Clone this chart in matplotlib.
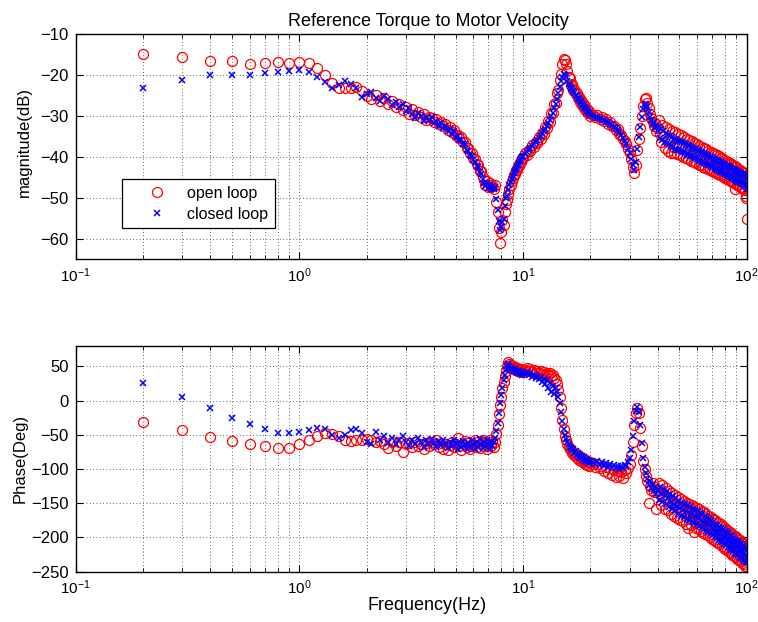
import numpy as np
import matplotlib
matplotlib.use("Agg")
import matplotlib.pyplot as plt
from matplotlib.ticker import LogLocator, MultipleLocator, NullFormatter

plt.rcParams['font.family'] = ['Liberation Sans', 'DejaVu Sans']
plt.rcParams['font.size'] = 12

# Measurement grid: 0.1 Hz to 10 Hz, 0.2 Hz to 20 Hz, 0.5 Hz to 100 Hz
freq = np.concatenate([np.arange(2, 101) / 10, np.arange(51, 101) / 5,
                       np.arange(41, 81) / 2, np.arange(81, 201) / 2])

mag_open = [
    -14.8, -15.7, -16.6, -16.7, -17.3, -17.0, -16.9, -17.0, -16.8,
    -17.0, -18.2, -20.0, -21.9, -23.3, -23.3, -23.2, -22.9, -23.9, -25.2,
    -26.0, -24.8, -26.4, -25.6, -27.0, -26.3, -27.8, -27.0, -28.6, -27.9,
    -29.5, -28.4, -29.8, -29.0, -30.4, -29.6, -31.0, -30.2, -30.6, -31.5,
    -30.8, -32.0, -31.4, -32.6, -32.0, -33.4, -32.8, -34.0, -33.5, -34.8,
    -34.6, -35.4, -35.2, -36.4, -36.3, -37.8, -37.9, -39.2, -39.0, -40.4,
    -40.6, -41.8, -42.0, -43.4, -43.6, -45.0, -45.8, -46.9, -46.0, -47.3,
    -46.5, -47.5, -46.8, -47.8, -46.9, -51.0, -53.5, -57.5, -61.0, -58.5,
    -55.5, -56.8, -53.5, -51.5, -50.5, -49.0, -47.8, -46.8, -46.0, -45.2,
    -44.4, -44.2, -43.3, -43.2, -42.2, -42.2, -41.3, -41.2, -40.4, -40.4,
    # 10.2 - 20 Hz
    -39.2, -39.6, -38.3, -38.6, -37.2, -37.6, -36.3, -36.6, -35.2, -35.6,
    -34.2, -34.4, -32.8, -33.0, -31.2, -31.4, -29.4, -29.4, -27.2, -26.8,
    -24.4, -23.6, -21.2, -19.8, -17.4, -16.0, -16.3, -17.4, -19.0, -20.6,
    -20.8, -22.4, -22.2, -23.6, -23.4, -24.7, -24.4, -25.7, -25.3, -26.5,
    -26.1, -27.3, -26.9, -28.0, -27.6, -28.7, -28.3, -29.4, -28.9, -30.0,
    # 20.5 - 40 Hz
    -29.8, -30.4, -29.8, -30.8, -30.4, -31.2, -30.8, -31.9, -31.6, -32.6,
    -32.4, -33.4, -33.2, -34.4, -34.8, -35.6, -36.2, -37.0, -38.0, -39.2,
    -40.6, -42.4, -44.0, -42.0, -38.4, -35.6, -33.0, -30.0, -27.6, -25.8,
    -25.6, -26.8, -28.2, -29.6, -30.6, -31.4, -32.6, -31.8, -33.6, -32.9,
    # 40.5 - 100 Hz
    -31.0, -34.5, -36.5, -32.2, -35.0, -37.8, -32.8, -35.8, -38.6, -33.2,
    -36.2, -39.0, -33.6, -37.6, -39.2, -34.0, -36.9, -39.4, -34.5, -37.2,
    -39.6, -34.8, -37.4, -40.0, -35.2, -37.8, -40.3, -35.6, -38.2, -40.6,
    -36.0, -38.4, -41.0, -36.2, -38.8, -41.3, -36.6, -39.0, -41.6, -37.0,
    -39.4, -41.9, -37.3, -39.6, -42.1, -37.6, -40.0, -42.4, -37.9, -40.2,
    -42.7, -38.2, -40.5, -43.0, -38.5, -40.8, -43.2, -38.8, -41.1, -43.5,
    -39.1, -41.4, -43.7, -39.4, -41.6, -44.0, -39.6, -41.9, -44.2, -39.9,
    -42.2, -44.5, -40.2, -42.4, -44.7, -40.4, -42.7, -45.0, -40.7, -42.9,
    -45.2, -41.0, -43.2, -45.5, -41.2, -43.4, -45.7, -41.5, -43.7, -46.0,
    -41.8, -44.0, -46.2, -42.0, -44.2, -46.5, -42.3, -47.8, -44.6, -42.6,
    -46.8, -44.8, -42.9, -47.0, -45.0, -43.2, -47.3, -45.3, -43.4, -47.6,
    -45.5, -43.7, -47.9, -45.8, -44.0, -48.2, -46.5, -50.2, -49.5, -55.3,
]

mag_closed = [
    -23.1, -21.2, -20.1, -20.1, -19.9, -19.5, -19.2, -19.0, -18.8,
    -19.2, -20.4, -21.8, -23.1, -22.5, -21.5, -22.1, -23.3, -25.3, -24.7,
    -24.2, -25.6, -26.4, -25.2, -26.0, -27.4, -26.6, -27.8, -27.0, -28.9,
    -28.0, -29.6, -30.6, -29.4, -30.0, -31.2, -30.4, -31.0, -30.2, -31.8,
    -31.2, -32.4, -31.8, -33.0, -32.4, -33.6, -33.2, -34.4, -33.8, -35.2,
    -34.9, -35.9, -35.8, -36.9, -37.0, -38.3, -38.5, -39.6, -39.8, -40.9,
    -41.2, -42.3, -42.6, -43.8, -44.2, -45.4, -46.4, -47.2, -46.5, -47.6,
    -46.9, -47.9, -47.2, -48.0, -47.4, -50.4, -53.0, -55.8, -58.0, -57.2,
    -56.0, -55.2, -52.0, -50.2, -49.5, -48.2, -47.0, -46.2, -45.4, -44.6,
    -44.0, -43.4, -43.0, -42.4, -42.0, -41.5, -41.0, -40.6, -40.1, -39.8,
    # 10.2 - 20 Hz
    -39.4, -38.8, -38.4, -37.9, -37.3, -36.9, -36.4, -35.9, -35.4, -34.9,
    -34.3, -33.7, -33.1, -32.4, -31.7, -31.0, -30.1, -29.2, -28.2, -27.1,
    -25.8, -24.4, -23.0, -21.6, -20.5, -19.8, -19.9, -20.6, -21.4, -22.1,
    -22.6, -23.1, -23.5, -24.0, -24.4, -24.8, -25.2, -25.6, -26.0, -26.4,
    -26.7, -27.1, -27.4, -27.8, -28.1, -28.4, -28.8, -29.1, -29.4, -29.7,
    # 20.5 - 40 Hz
    -30.0, -30.2, -30.5, -30.6, -30.9, -31.1, -31.4, -31.6, -32.0, -32.3,
    -32.7, -33.0, -33.5, -34.0, -34.7, -35.4, -36.1, -37.0, -38.0, -39.2,
    -40.6, -42.0, -43.2, -41.4, -38.0, -35.2, -32.8, -30.4, -28.4, -27.2,
    -27.0, -27.9, -29.0, -30.2, -31.0, -32.0, -31.6, -33.0, -32.4, -33.6,
    # 40.5 - 100 Hz
    -32.8, -35.4, -33.3, -35.9, -33.8, -36.3, -34.2, -36.7, -34.6, -37.0,
    -34.9, -37.3, -35.2, -37.7, -35.6, -38.0, -35.9, -38.3, -36.2, -38.4,
    -36.2, -38.6, -36.5, -38.9, -36.7, -39.1, -36.9, -39.3, -37.2, -39.5,
    -37.4, -39.7, -37.6, -39.9, -37.8, -40.1, -38.0, -40.4, -38.2, -40.6,
    -38.4, -40.8, -38.6, -41.0, -38.8, -41.2, -39.0, -41.4, -39.2, -41.5,
    -39.4, -41.7, -39.6, -41.9, -39.8, -42.1, -40.0, -42.3, -40.1, -42.5,
    -40.3, -42.6, -40.5, -42.8, -40.7, -43.0, -40.8, -43.2, -41.0, -43.3,
    -41.2, -43.5, -41.3, -43.7, -41.5, -43.8, -41.7, -44.0, -41.8, -44.2,
    -42.0, -44.3, -42.2, -44.5, -42.3, -44.6, -42.5, -44.8, -42.6, -45.0,
    -42.8, -45.1, -43.0, -45.3, -43.1, -45.4, -43.3, -45.6, -43.4, -45.8,
    -43.6, -45.9, -43.7, -46.1, -43.9, -46.2, -44.0, -46.4, -44.2, -46.5,
    -44.3, -46.7, -44.5, -46.8, -44.6, -47.0, -44.8, -47.4, -45.5, -47.8,
]

phase_open = [
    -31.5, -43.0, -53.0, -58.4, -64.0, -66.7, -69.7, -68.7, -63.5,
    -57.0, -51.0, -46.6, -48.5, -52.0, -57.0, -59.4, -58.0, -57.5, -55.6,
    -58.0, -61.0, -58.5, -63.0, -69.0, -61.0, -66.0, -60.0, -75.6, -64.0,
    -62.0, -67.0, -60.0, -66.0, -63.0, -70.0, -62.0, -66.0, -60.0, -64.0,
    -58.0, -67.0, -62.0, -70.0, -64.0, -72.0, -65.0, -61.0, -68.0, -63.0,
    -55.0, -66.0, -72.0, -64.0, -59.0, -68.0, -62.0, -70.0, -63.0, -66.0,
    -58.0, -67.0, -61.0, -69.0, -62.0, -57.0, -66.0, -60.0, -70.0, -63.0,
    -58.0, -66.0, -61.0, -68.0, -60.0, -48.0, -36.0, -20.0, -6.0, 6.0,
    18.0, 28.0, 36.0, 44.0, 50.0, 56.0, 54.0, 52.0, 48.0, 50.0,
    46.0, 49.0, 45.0, 48.0, 44.0, 47.0, 43.0, 46.0, 42.0, 45.0,
    # 10.2 - 20 Hz
    45, 48, 43, 46, 42, 45, 41, 44, 40, 43,
    39, 42, 38, 41, 37, 40, 36, 38, 33, 30,
    24, 16, 5, -10, -28, -42, -52, -58, -63, -67,
    -70, -72, -76, -75, -80, -78, -84, -80, -86, -83,
    -88, -84, -90, -86, -92, -87, -94, -89, -96, -90,
    # 20.5 - 40 Hz
    -93, -97, -92, -99, -95, -103, -97, -106, -99, -108,
    -101, -112, -103, -110, -104, -113, -102, -106, -98, -92,
    -80, -60, -35, -18, -10, -18, -40, -66, -88, -100,
    -110, -118, -150, -125, -130, -120, -134, -126, -158, -132,
    # 40.5 - 100 Hz
    -121, -136, -153, -124, -139, -158, -127, -142, -160, -132,
    -147, -166, -135, -150, -168, -138, -153, -172, -141, -156,
    -174, -144, -159, -176, -146, -161, -180, -149, -163, -186,
    -151, -165, -182, -153, -168, -192, -155, -170, -186, -157,
    -172, -188, -159, -174, -190, -161, -176, -193, -163, -178,
    -195, -166, -180, -197, -168, -183, -199, -170, -185, -202,
    -173, -187, -204, -175, -190, -206, -177, -192, -208, -179,
    -194, -210, -181, -196, -213, -183, -198, -215, -185, -200,
    -217, -187, -202, -219, -190, -204, -221, -192, -206, -223,
    -194, -208, -225, -196, -211, -227, -198, -213, -229, -200,
    -215, -231, -202, -217, -233, -204, -218, -235, -206, -220,
    -237, -208, -222, -239, -210, -224, -241, -212, -226, -243,
]

phase_closed = [
    25.4, 5.3, -11.3, -25.6, -34.0, -41.0, -47.0, -47.0, -46.0,
    -43.0, -40.0, -42.0, -50.0, -55.0, -50.0, -43.0, -41.0, -47.0, -61.0,
    -63.0, -46.0, -58.0, -51.0, -62.0, -55.0, -64.0, -58.0, -52.0, -60.0,
    -66.0, -57.0, -63.0, -55.0, -61.0, -67.0, -58.0, -64.0, -56.0, -62.0,
    -68.0, -59.0, -65.0, -57.0, -63.0, -69.0, -60.0, -66.0, -58.0, -64.0,
    -70.0, -61.0, -67.0, -59.0, -65.0, -71.0, -62.0, -68.0, -58.0, -64.0,
    -70.0, -61.0, -67.0, -56.0, -63.0, -69.0, -60.0, -66.0, -58.0, -64.0,
    -70.0, -61.0, -66.0, -60.0, -55.0, -45.0, -32.0, -18.0, -4.0, 8.0,
    19.0, 30.0, 38.0, 45.0, 50.0, 53.0, 50.0, 48.0, 45.0, 47.0,
    43.0, 46.0, 42.0, 44.0, 40.0, 43.0, 39.0, 42.0, 38.0, 41.0,
    # 10.2 - 20 Hz
    39, 42, 37, 40, 35, 38, 33, 36, 31, 34,
    28, 32, 24, 30, 18, 26, 12, 22, 10, 18,
    12, 6, -4, -16, -30, -42, -50, -56, -60, -64,
    -67, -69, -72, -71, -76, -74, -79, -77, -82, -79,
    -84, -81, -86, -83, -88, -85, -90, -86, -91, -88,
    # 20.5 - 40 Hz
    -89, -92, -88, -94, -90, -96, -91, -97, -93, -98,
    -94, -99, -95, -100, -96, -99, -94, -96, -90, -84,
    -72, -52, -30, -15, -9, -16, -36, -62, -84, -97,
    -106, -114, -124, -118, -128, -122, -132, -126, -136, -130,
    # 40.5 - 100 Hz
    -145, -126, -137, -148, -129, -140, -151, -132, -143, -156,
    -137, -148, -159, -140, -151, -162, -143, -154, -165, -146,
    -157, -168, -149, -160, -170, -151, -162, -173, -153, -164,
    -175, -155, -166, -177, -158, -168, -179, -160, -170, -181,
    -162, -172, -183, -164, -174, -185, -166, -177, -187, -168,
    -179, -190, -170, -181, -192, -173, -183, -194, -175, -186,
    -197, -177, -188, -199, -180, -190, -201, -182, -192, -203,
    -184, -194, -205, -186, -197, -207, -188, -199, -209, -190,
    -201, -211, -192, -203, -214, -194, -205, -216, -196, -207,
    -218, -198, -209, -220, -201, -211, -222, -203, -213, -224,
    -205, -215, -226, -207, -217, -228, -208, -219, -230, -210,
    -221, -232, -212, -223, -234, -214, -225, -236, -216, -238,
]

labels = ['open loop', 'closed loop']

fig = plt.figure(figsize=(7.58, 6.22), dpi=100)
ax1 = fig.add_axes([0.0999, 0.5836, 0.885, 0.3617])
ax2 = fig.add_axes([0.0999, 0.0809, 0.885, 0.3629])

circ = dict(linestyle='none', marker='o', markersize=7.2, markerfacecolor='none',
            markeredgecolor=(1, 0, 0), markeredgewidth=0.9)
cross = dict(linestyle='none', marker='x', markersize=5, color=(0, 0, 1),
             markeredgewidth=1.1)

ax1.plot(freq, mag_open, label=labels[0], **circ)
ax1.plot(freq, mag_closed, label=labels[1], **cross)
ax2.plot(freq, phase_open, **circ)
ax2.plot(freq, phase_closed, **cross)

for ax in (ax1, ax2):
    ax.set_xscale('log')
    ax.set_xlim(0.1, 100)
    ax.xaxis.set_major_locator(LogLocator(base=10, numticks=10))
    ax.xaxis.set_minor_locator(LogLocator(base=10, subs=np.arange(2, 10), numticks=20))
    ax.xaxis.set_minor_formatter(NullFormatter())
    ax.grid(True, which='major', axis='both', color='0.2', linestyle=(0, (1, 3)), linewidth=0.6)
    ax.grid(True, which='minor', axis='x', color='0.2', linestyle=(0, (1, 3)), linewidth=0.6)
    ax.tick_params(which='both', direction='in', top=True, right=True, colors='black')
    ax.tick_params(axis='y', labelsize=12)
    ax.tick_params(axis='x', labelsize=11)
    ax.tick_params(which='major', length=5, width=0.8, pad=5)
    ax.tick_params(which='minor', length=3, width=0.6)
    for sp in ax.spines.values():
        sp.set_linewidth(1.0)
        sp.set_color('black')
    ax.set_axisbelow(True)

ax1.set_ylim(-65, -10)
ax1.yaxis.set_major_locator(MultipleLocator(10))
ax2.set_ylim(-250, 80)
ax2.yaxis.set_major_locator(MultipleLocator(50))

ax1.set_title('Reference Torque to Motor Velocity', fontsize=13, pad=6, x=0.525)
ax1.set_ylabel('magnitude(dB)', fontsize=12)
ax2.set_ylabel('Phase(Deg)', fontsize=12)
ax2.set_xlabel('Frequency(Hz)', fontsize=13)
ax1.yaxis.set_label_coords(-0.066, 0.52)
ax2.yaxis.set_label_coords(-0.071, 0.5)
ax2.xaxis.set_label_coords(0.524, -0.112)

leg = ax1.legend(loc='lower left', bbox_to_anchor=(0.069, 0.136), fancybox=False,
                 edgecolor='black', framealpha=1, borderpad=0.4, labelspacing=0.4,
                 handlelength=3.6, handletextpad=0.1, fontsize=11.5, borderaxespad=0)
leg.get_frame().set_linewidth(0.9)

fig.savefig('out.png', dpi=100)
